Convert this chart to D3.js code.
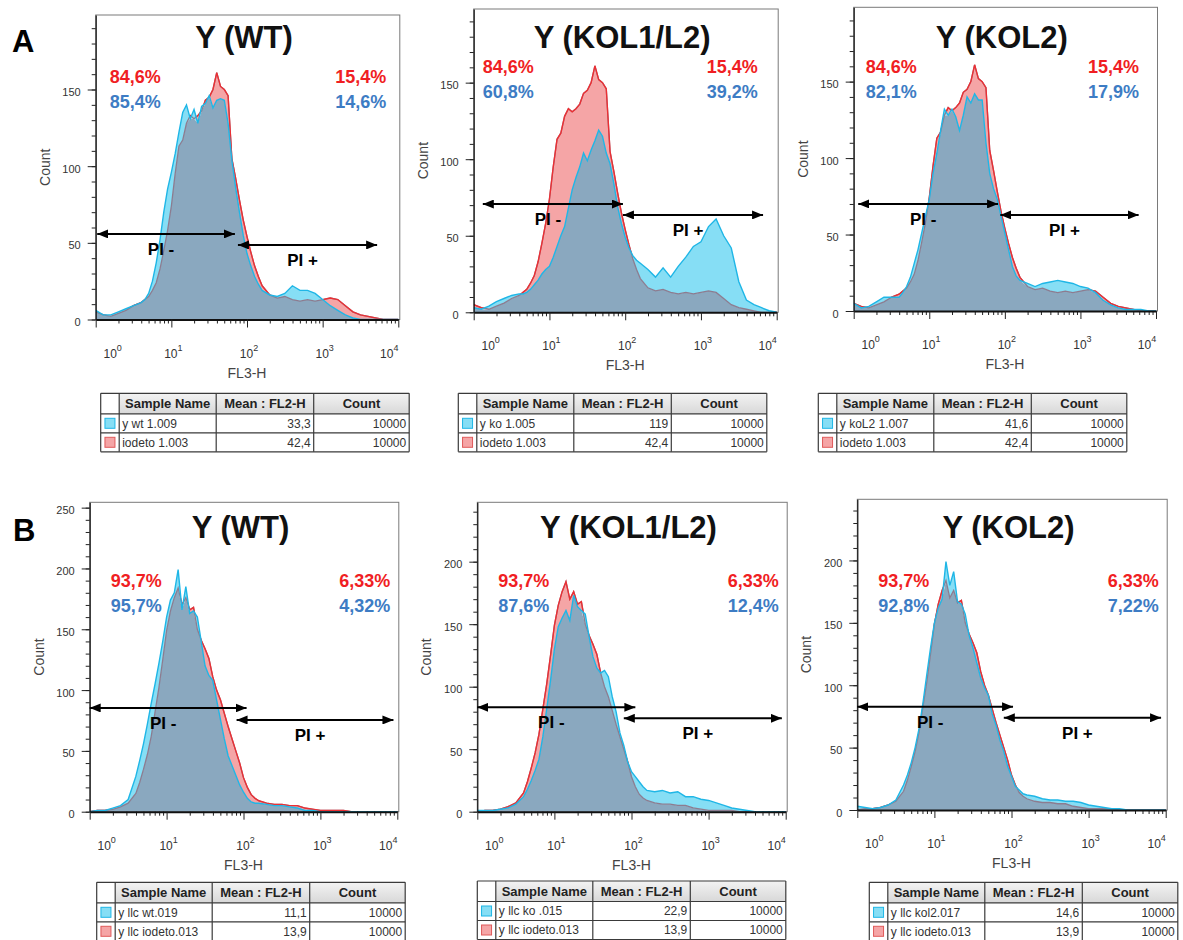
<!DOCTYPE html>
<html>
<head>
<meta charset="utf-8">
<script src="https://cdn.jsdelivr.net/npm/d3@7"></script>
<style>
  html, body { margin: 0; padding: 0; background: #fff; }
  svg { display: block; font-family: "Liberation Sans", Arial, sans-serif; }
</style>
</head>
<body>
<div id="chart"></div>
<script>
// FL3-H bin positions, as log10 of the channel value
const fl3Log = [0, 0.1, 0.2, 0.3, 0.4, 0.5, 0.6,
  0.65, 0.7, 0.75, 0.8, 0.85, 0.9, 0.95, 1, 1.05, 1.1, 1.15, 1.2, 1.25, 1.3, 1.35, 1.4, 1.45, 1.5,
  1.55, 1.6, 1.65, 1.7, 1.75, 1.8, 1.85, 1.9, 1.95, 2, 2.05, 2.1, 2.15, 2.2,
  2.3, 2.4, 2.5, 2.6, 2.7, 2.8, 2.9, 3, 3.1, 3.2, 3.3, 3.4, 3.5, 3.6, 3.7, 3.8, 3.9, 4];

// row A counts
const iodetoA = [5, 3, 2, 4, 6, 9, 11,
  13, 15, 19, 24, 33, 45, 58, 74, 95, 113, 117, 128, 133, 131, 133, 136, 143, 145,
  150, 161, 152, 150, 146, 105, 92, 78, 65, 54, 44, 35, 28, 22,
  16, 14, 15, 13, 12, 13, 12, 13, 14, 13, 9, 5, 3, 2, 1, 0, 0, 0];
const yWtA = [6, 3, 3, 5, 7, 9, 11,
  13, 17, 25, 37, 52, 70, 85, 96, 108, 122, 135, 140, 131, 137, 128, 139, 141, 146,
  138, 143, 144, 143, 128, 104, 86, 70, 55, 43, 35, 28, 23, 19,
  16, 15, 17, 22, 19, 19, 17, 13, 9, 6, 3, 1, 0, 0, 0, 0, 0, 0];
const yKoA = [3, 2, 4, 7, 9, 11, 12,
  12, 13, 15, 18, 21, 25, 28, 30, 36, 43, 50, 56, 68, 80, 88, 95, 104, 99,
  106, 112, 119, 115, 104, 97, 84, 69, 58, 49, 42, 37, 34, 32,
  28, 23, 29, 23, 30, 36, 43, 46, 56, 61, 50, 42, 20, 8, 5, 3, 1, 0];
const yKol2A = [5, 2, 3, 6, 9, 9, 9,
  12, 16, 22, 31, 40, 51, 62, 73, 90, 103, 118, 132, 128, 132, 127, 118, 128, 140,
  136, 142, 138, 138, 110, 90, 80, 73, 62, 51, 40, 29, 23, 20,
  18, 16, 18, 19, 20, 19, 18, 16, 15, 12, 7, 4, 2, 1, 1, 1, 0, 0];

// row B counts
const iodetoB = [0, 1, 1, 2, 4, 7, 15,
  24, 35, 47, 62, 82, 102, 125, 149, 165, 176, 184, 170, 176, 166, 168, 150, 141, 134,
  126, 111, 100, 92, 81, 70, 60, 50, 40, 28, 20, 14, 11, 9,
  7, 6, 6, 5, 5, 3, 2, 1, 1, 1, 1, 0, 0, 0, 0, 0, 0, 0];
const yWtB = [0, 1, 1, 3, 5, 10, 29,
  42, 56, 72, 89, 105, 122, 140, 160, 174, 180, 199, 166, 185, 163, 165, 160, 140, 120,
  112, 108, 92, 76, 60, 46, 38, 30, 22, 16, 11, 8, 7, 7,
  6, 5, 5, 4, 3, 1, 1, 0, 0, 0, 0, 0, 0, 0, 0, 0, 0, 0];
const yKoB = [1, 1, 1, 2, 3, 6, 12,
  18, 25, 33, 42, 60, 82, 105, 130, 148, 155, 161, 153, 173, 164, 161, 158, 140, 124,
  115, 111, 113, 108, 92, 80, 63, 53, 40, 32, 28, 24, 20, 17,
  16, 17, 15, 16, 12, 12, 10, 9, 7, 5, 3, 2, 1, 0, 0, 0, 0, 0];
const yKol2B = [3, 2, 1, 2, 4, 8, 20,
  28, 38, 50, 65, 85, 108, 130, 150, 162, 169, 199, 180, 191, 167, 165, 157, 140, 130,
  118, 106, 98, 92, 77, 68, 56, 47, 35, 27, 19, 16, 13, 12,
  11, 9, 8, 8, 7, 7, 6, 4, 3, 2, 1, 1, 0, 0, 0, 0, 0, 0];

const titles = ['Y (WT)', 'Y (KOL1/L2)', 'Y (KOL2)'];

// PI- / PI+ percentages: [left, right]
const pctRefA = ['84,6%', '15,4%'];
const pctSampleA = [['85,4%', '14,6%'], ['60,8%', '39,2%'], ['82,1%', '17,9%']];
const pctRefB = ['93,7%', '6,33%'];
const pctSampleB = [['95,7%', '4,32%'], ['87,6%', '12,4%'], ['92,8%', '7,22%']];

// gates: [fromLog, toLog, count] for PI- then PI+
const gatesA = [
  [[0.02, 1.84, 55.8], [1.88, 3.72, 48.6]],
  [[0.12, 1.97, 70.7], [1.97, 3.82, 63.6]],
  [[0.06, 1.91, 70], [1.94, 3.77, 62.8]]
];
const gatesB = [
  [[0, 2.04, 85.3], [1.91, 3.95, 75.4]],
  [[0, 2.05, 83.5], [1.90, 3.95, 74.7]],
  [[0, 2.02, 82.7], [1.90, 3.94, 73.9]]
];

// statistics tables
const sampleNamesA = ['y wt 1.009', 'y ko 1.005', 'y koL2 1.007'];
const sampleMeansA = ['33,3', '119', '41,6'];
const refNameA = 'iodeto 1.003', refMeanA = '42,4';
const sampleNamesB = ['y llc wt.019', 'y llc ko .015', 'y llc kol2.017'];
const sampleMeansB = ['11,1', '22,9', '14,6'];
const refNameB = 'y llc iodeto.013', refMeanB = '13,9';
const eventCount = '10000';
const tableHeader = ['', 'Sample Name', 'Mean : FL2-H', 'Count'];

// layout
const panelLayout = [
  {x0: 95.7, x1: 398.3, top: 15, base: 319.5, yMax: 198.6, titleY: 48, pctY: 83, padL: 14, padR: 13},
  {x0: 473.7, x1: 776.7, top: 9, base: 312.3, yMax: 198.1, titleY: 48, pctY: 73, padL: 9, padR: 20},
  {x0: 853.7, x1: 1156, top: 7.3, base: 311, yMax: 198.6, titleY: 48, pctY: 73, padL: 12, padR: 18},
  {x0: 89.7, x1: 397.3, top: 502.3, base: 811.7, yMax: 254.4, titleY: 538, pctY: 587, padL: 21, padR: 8},
  {x0: 477.3, x1: 785.7, top: 502.3, base: 811.7, yMax: 247.5, titleY: 538, pctY: 587, padL: 21, padR: 8},
  {x0: 857.3, x1: 1165.7, top: 499.3, base: 810, yMax: 249, titleY: 538, pctY: 587, padL: 21, padR: 8}
];
const tablePos = [[100.7, 393.3], [458.3, 393.3], [818.3, 393.3], [96.7, 882.3], [477.3, 881], [869.3, 882.3]];
const tableCols = [18.5, 97, 97.5, 95.5];
const tableRows = [20.5, 19, 19];

const C = {
  cyanFill: '#86def5', cyanLine: '#1fb6e6',
  redFill: '#f5a5a6', redLine: '#ec2f33', redUnder: '#8c7c90',
  overlap: '#8aa8bf',
  pctRed: '#f01e23', pctBlue: '#3d7cc4'
};

const svg = d3.select('#chart').append('svg').attr('width', 1183).attr('height', 940);
const defs = svg.append('defs');
defs.append('marker')
  .attr('id', 'arrowHead')
  .attr('viewBox', '0 0 11 9')
  .attr('refX', 11).attr('refY', 4.5)
  .attr('markerWidth', 11).attr('markerHeight', 9)
  .attr('markerUnits', 'userSpaceOnUse')
  .attr('orient', 'auto-start-reverse')
  .append('path').attr('d', 'M0,0L11,4.5L0,9Z').attr('fill', '#000');
const grad = defs.append('linearGradient').attr('id', 'hdrGrad').attr('x1', 0).attr('y1', 0).attr('x2', 0).attr('y2', 1);
grad.append('stop').attr('offset', '0%').attr('stop-color', '#f3f3f3');
grad.append('stop').attr('offset', '100%').attr('stop-color', '#d8d8d8');

function drawPanel(i, ref, smp, title, pctRef, pctSmp, gates) {
  const p = panelLayout[i];
  const g = svg.append('g').attr('class', 'panel');
  const x = d3.scaleLog().domain([1, 1e4]).range([p.x0, p.x1]);
  const y = d3.scaleLinear().domain([0, p.yMax]).range([p.base, p.top]);
  const pts = fl3Log.map((e, k) => ({e: e, ref: ref[k], smp: smp[k], lo: Math.min(ref[k], smp[k])}));
  const xa = d => x(Math.pow(10, d.e));

  // frame
  g.append('rect')
    .attr('x', p.x0).attr('y', p.top)
    .attr('width', p.x1 + 1.5 - p.x0).attr('height', p.base - p.top)
    .attr('fill', 'none').attr('stroke', '#7a7a7a').attr('stroke-width', 1);

  defs.append('clipPath').attr('id', 'above' + i)
    .append('path')
    .attr('d', d3.area().x(xa).y0(p.top - 5).y1(d => y(d.smp))(pts));

  g.append('path').attr('d', d3.area().x(xa).y0(p.base).y1(d => y(d.lo))(pts)).attr('fill', C.overlap);
  g.append('path').attr('d', d3.area().x(xa).y0(d => y(d.lo)).y1(d => y(d.ref))(pts)).attr('fill', C.redFill);
  g.append('path').attr('d', d3.area().x(xa).y0(d => y(d.lo)).y1(d => y(d.smp))(pts)).attr('fill', C.cyanFill);

  const lineRef = d3.line().x(xa).y(d => y(d.ref));
  g.append('path').attr('d', lineRef(pts)).attr('fill', 'none')
    .attr('stroke', C.redUnder).attr('stroke-width', 1.3);
  g.append('path').attr('d', lineRef(pts)).attr('fill', 'none')
    .attr('stroke', C.redLine).attr('stroke-width', 1.4)
    .attr('clip-path', `url(#above${i})`);
  g.append('path').attr('d', d3.line().x(xa).y(d => y(d.smp))(pts)).attr('fill', 'none')
    .attr('stroke', C.cyanLine).attr('stroke-width', 1.4);

  // y axis
  const yMinor = g.append('g').attr('transform', `translate(${p.x0},0)`)
    .call(d3.axisLeft(y).tickValues(d3.range(0, p.yMax, 10)).tickSize(4).tickFormat(''));
  yMinor.select('.domain').remove();
  const yMajor = g.append('g').attr('transform', `translate(${p.x0},0)`)
    .call(d3.axisLeft(y).tickValues(d3.range(0, p.yMax, 50)).tickSize(8).tickPadding(7).tickSizeOuter(0));
  yMajor.select('.domain').attr('stroke', '#111').attr('stroke-width', 1.2);
  yMajor.selectAll('text').attr('font-size', 11).attr('fill', '#333').attr('dy', '0.55em')
    .attr('font-family', 'Liberation Sans, Arial, sans-serif');
  g.selectAll('.tick line').attr('stroke', '#222');

  // x axis
  const decades = [1, 10, 100, 1000, 10000];
  const minors = [];
  decades.slice(0, 4).forEach(d => d3.range(2, 10).forEach(m => minors.push(d * m)));
  g.append('g').attr('transform', `translate(0,${p.base})`)
    .call(d3.axisBottom(x).tickValues(minors).tickSize(4).tickFormat(''))
    .select('.domain').remove();
  const xMajor = g.append('g').attr('transform', `translate(0,${p.base})`)
    .call(d3.axisBottom(x).tickValues(decades).tickSize(8).tickFormat('').tickSizeOuter(0));
  xMajor.select('.domain').attr('stroke', '#111').attr('stroke-width', 2);
  g.selectAll('.tick line').attr('stroke', '#222');

  decades.forEach((d, k) => {
    const cx = Math.min(Math.max(x(d) + 2, p.x0 + 17), p.x1 - 9);
    const t = g.append('text').attr('x', cx).attr('y', p.base + 38)
      .attr('text-anchor', 'middle').attr('font-size', 12).attr('fill', '#333');
    t.append('tspan').text('10');
    t.append('tspan').attr('font-size', 9).attr('dy', -7).text(k);
  });

  g.append('text').attr('x', (p.x0 + p.x1) / 2).attr('y', p.base + 58)
    .attr('text-anchor', 'middle').attr('font-size', 14).attr('fill', '#444').text('FL3-H');
  g.append('text')
    .attr('transform', `translate(${p.x0 - 51},${(p.top + p.base) / 2}) rotate(-90)`)
    .attr('text-anchor', 'middle').attr('dominant-baseline', 'central')
    .attr('font-size', 14).attr('fill', '#444').text('Count');

  // title and percentages
  g.append('text').attr('x', (p.x0 + p.x1) / 2 - 3).attr('y', p.titleY)
    .attr('text-anchor', 'middle').attr('font-size', 31).attr('font-weight', 'bold')
    .attr('fill', '#111').text(title);
  [[pctRef, C.pctRed, 0], [pctSmp, C.pctBlue, 25]].forEach(([vals, col, dy]) => {
    g.append('text').attr('x', p.x0 + p.padL).attr('y', p.pctY + dy)
      .attr('font-size', 18).attr('font-weight', 'bold').attr('fill', col).text(vals[0]);
    g.append('text').attr('x', p.x1 + 1 - p.padR).attr('y', p.pctY + dy).attr('text-anchor', 'end')
      .attr('font-size', 18).attr('font-weight', 'bold').attr('fill', col).text(vals[1]);
  });

  // gates
  gates.forEach((gt, k) => {
    const xa0 = x(Math.pow(10, gt[0])), xa1 = x(Math.pow(10, gt[1])), yy = y(gt[2]);
    g.append('line').attr('x1', xa0).attr('x2', xa1).attr('y1', yy).attr('y2', yy)
      .attr('stroke', '#000').attr('stroke-width', 2)
      .attr('marker-start', 'url(#arrowHead)').attr('marker-end', 'url(#arrowHead)');
    g.append('text').attr('x', (xa0 + xa1) / 2 - 5).attr('y', yy + 21)
      .attr('text-anchor', 'middle').attr('font-size', 17).attr('font-weight', 'bold')
      .attr('fill', '#000').text(k === 0 ? 'PI -' : 'PI +');
  });
}

function drawTable(i, rows) {
  const [left, top] = tablePos[i];
  const g = svg.append('g').attr('transform', `translate(${left},${top})`);
  const colX = [0];
  tableCols.forEach(w => colX.push(colX[colX.length - 1] + w));
  const rowY = [0];
  tableRows.forEach(h => rowY.push(rowY[rowY.length - 1] + h));

  for (let c = 1; c < 4; c++) {
    g.append('rect').attr('x', colX[c]).attr('y', 0)
      .attr('width', tableCols[c]).attr('height', tableRows[0]).attr('fill', 'url(#hdrGrad)');
    g.append('text').attr('x', (colX[c] + colX[c + 1]) / 2).attr('y', tableRows[0] / 2 + 4.5)
      .attr('text-anchor', 'middle').attr('font-size', 13).attr('font-weight', 'bold')
      .attr('fill', '#222').text(tableHeader[c]);
  }
  rows.forEach((r, k) => {
    const cy = (rowY[k + 1] + rowY[k + 2]) / 2;
    g.append('rect').attr('x', (tableCols[0] - 10) / 2).attr('y', cy - 5)
      .attr('width', 10).attr('height', 10)
      .attr('fill', r.fill).attr('stroke', r.stroke).attr('stroke-width', 1);
    g.append('text').attr('x', colX[1] + 3).attr('y', cy + 4.3)
      .attr('font-size', 12).attr('fill', '#333').text(r.name);
    g.append('text').attr('x', colX[3] - 3).attr('y', cy + 4.3).attr('text-anchor', 'end')
      .attr('font-size', 12).attr('fill', '#333').text(r.mean);
    g.append('text').attr('x', colX[4] - 3).attr('y', cy + 4.3).attr('text-anchor', 'end')
      .attr('font-size', 12).attr('fill', '#333').text(r.count);
  });
  rowY.forEach(yy => g.append('line').attr('x1', 0).attr('x2', colX[4]).attr('y1', yy).attr('y2', yy)
    .attr('stroke', '#3a3a3a').attr('stroke-width', 1.2));
  colX.forEach(xx => g.append('line').attr('x1', xx).attr('x2', xx).attr('y1', 0).attr('y2', rowY[3])
    .attr('stroke', '#3a3a3a').attr('stroke-width', 1.2));
}

const samplesA = [yWtA, yKoA, yKol2A];
const samplesB = [yWtB, yKoB, yKol2B];
for (let k = 0; k < 3; k++) {
  drawPanel(k, iodetoA, samplesA[k], titles[k], pctRefA, pctSampleA[k], gatesA[k]);
  drawPanel(k + 3, iodetoB, samplesB[k], titles[k], pctRefB, pctSampleB[k], gatesB[k]);
  drawTable(k, [
    {name: sampleNamesA[k], mean: sampleMeansA[k], count: eventCount, fill: C.cyanFill, stroke: C.cyanLine},
    {name: refNameA, mean: refMeanA, count: eventCount, fill: C.redFill, stroke: '#e05a5a'}
  ]);
  drawTable(k + 3, [
    {name: sampleNamesB[k], mean: sampleMeansB[k], count: eventCount, fill: C.cyanFill, stroke: C.cyanLine},
    {name: refNameB, mean: refMeanB, count: eventCount, fill: C.redFill, stroke: '#e05a5a'}
  ]);
}

svg.append('text').attr('x', 12).attr('y', 52).attr('font-size', 31).attr('font-weight', 'bold').text('A');
svg.append('text').attr('x', 13).attr('y', 541).attr('font-size', 31).attr('font-weight', 'bold').text('B');
</script>
</body>
</html>
